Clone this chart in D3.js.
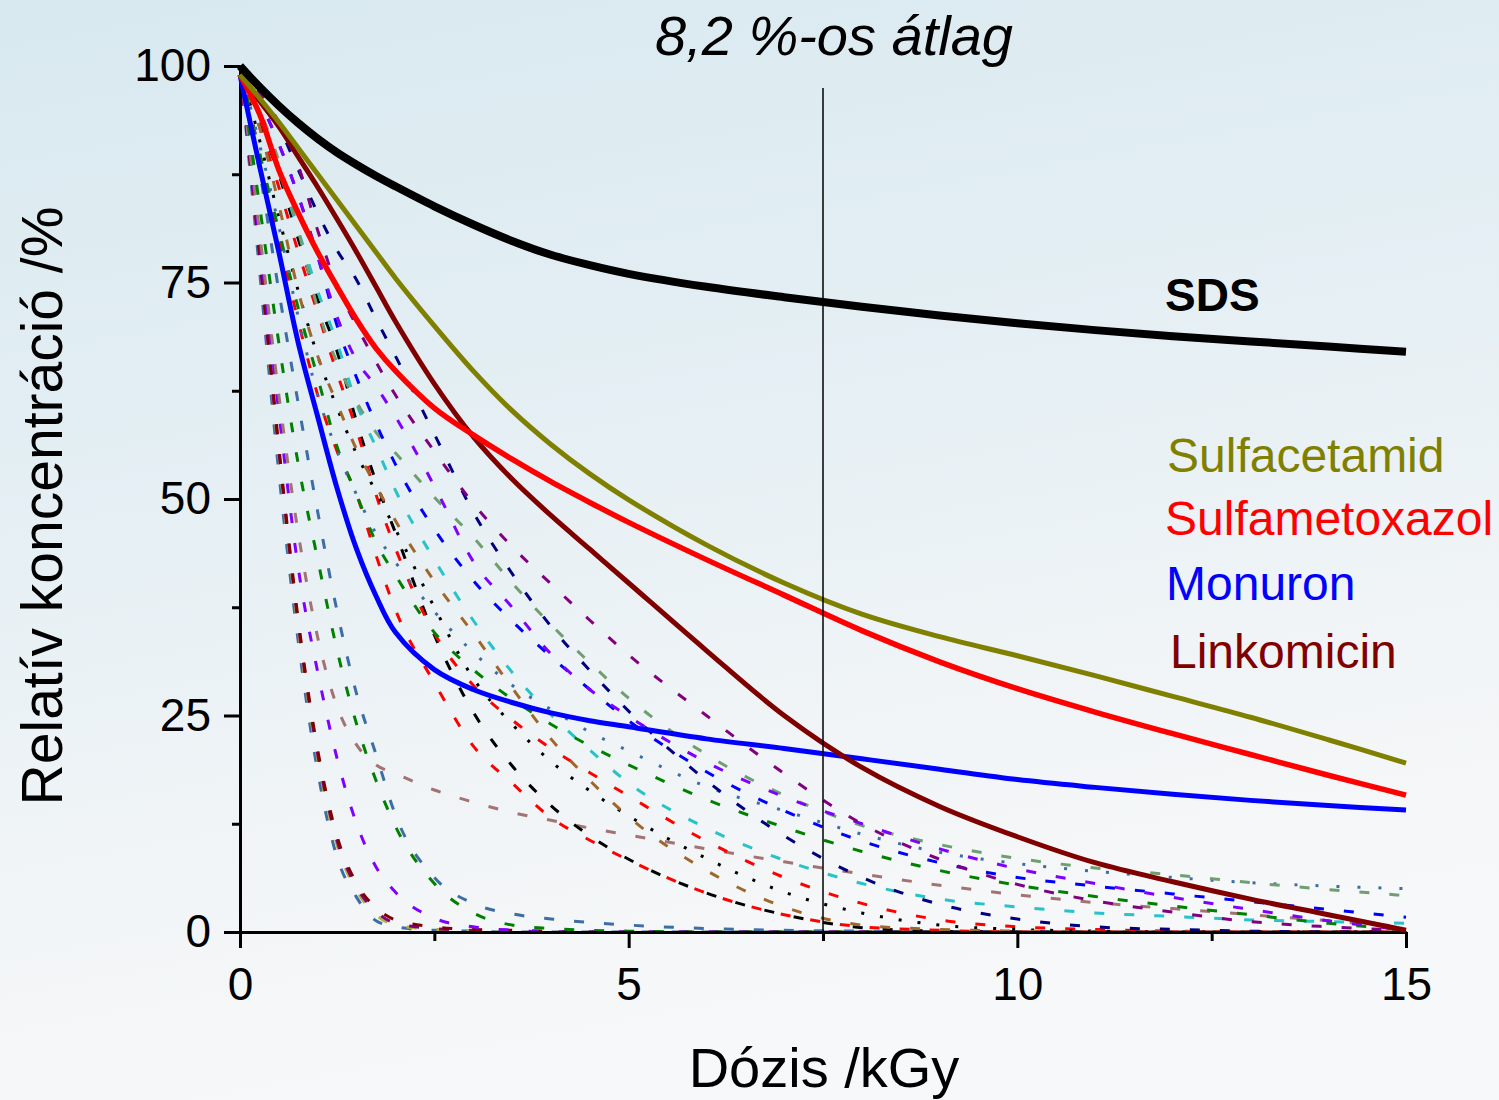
<!DOCTYPE html>
<html>
<head>
<meta charset="utf-8">
<script src="https://cdn.jsdelivr.net/npm/d3@7"></script>
<style>
  html, body { margin: 0; padding: 0; background: #f4f6f8; }
  svg { display: block; font-family: "Liberation Sans", Arial, sans-serif; }
</style>
</head>
<body>
<svg width="1499" height="1100"></svg>
<script>
// dose grid (kGy) shared by every series
const doses = [0, 0.25, 0.5, 0.75, 1, 1.25, 1.5, 1.75, 2, 2.5, 3, 3.5, 4, 4.5, 5, 6, 7, 8, 9, 10, 11, 12, 13, 14, 15];

// highlighted compounds (relative concentration, %)
const sds            = [100, 97.6, 95.4, 93.4, 91.6, 90.0, 88.6, 87.3, 86.1, 83.8, 81.7, 79.8, 78.2, 77.0, 76.0, 74.5, 73.3, 72.2, 71.2, 70.3, 69.5, 68.8, 68.2, 67.6, 67.0];
const sulfacetamid   = [99, 96.3, 93.5, 90.5, 87.5, 84.5, 81.5, 78.5, 75.5, 70, 64.8, 60.2, 56.3, 52.9, 49.9, 44.7, 40.3, 36.7, 34.1, 31.9, 29.6, 27.2, 24.8, 22.2, 19.5];
const sulfametoxazol = [99, 94.5, 88, 83, 78.5, 74.5, 70.7, 67.4, 64.8, 60.5, 57.4, 54.6, 52, 49.6, 47.3, 43.0, 38.9, 34.8, 31.2, 28.1, 25.4, 22.9, 20.5, 18.1, 15.8];
const monuron        = [99, 88.5, 78.5, 68, 59.5, 51.2, 44.2, 38.8, 34.6, 30.3, 28, 26.5, 25.3, 24.4, 23.7, 22.3, 21.2, 20, 18.8, 17.6, 16.7, 15.9, 15.2, 14.6, 14.1];
const linkomicin     = [99, 96, 93, 89.5, 86, 82.3, 78.5, 74.5, 70.5, 63.3, 57.2, 52.3, 48.1, 44.2, 40.3, 32.5, 25, 19, 14.5, 11, 8, 5.8, 3.8, 2, 0.2];

// the other compounds (thin dashed / dotted curves)
const dashA1 = [100, 76.5, 53, 33.5, 18.5, 8.6, 4.0, 1.3, 0.6, 0.2, 0.1, 0, 0, 0, 0, 0, 0, 0, 0, 0, 0, 0, 0, 0, 0];
const dashA2 = [100, 78, 55, 35, 20, 10, 4.8, 2.0, 0.8, 0.3, 0.1, 0, 0, 0, 0, 0, 0, 0, 0, 0, 0, 0, 0, 0, 0];
const dashA3 = [100, 78, 55.5, 35.5, 20.5, 10.5, 5.2, 2.4, 1.0, 0.4, 0.2, 0.1, 0, 0, 0, 0, 0, 0, 0, 0, 0, 0, 0, 0, 0];
const dashA4 = [100, 79, 56, 36, 21, 11, 5.6, 2.8, 1.4, 0.6, 0.3, 0.2, 0.1, 0, 0, 0, 0, 0, 0, 0, 0, 0, 0, 0, 0];
const dashV1 = [100, 80, 60, 42, 30, 20, 12.5, 7.5, 4.6, 1.6, 0.6, 0.2, 0, 0, 0, 0, 0, 0, 0, 0, 0, 0, 0, 0, 0];
const dashRB = [100, 81, 62, 46, 34, 26, 21.6, 19.3, 18.3, 16.4, 15, 13.8, 12.9, 12, 11.2, 9.6, 8.1, 6.7, 5.4, 4.3, 3.4, 2.7, 2.0, 1.3, 0.6];
const dashG1 = [100, 84, 68, 54, 43, 32.5, 24, 17.5, 12.2, 5.6, 2.2, 0.8, 0.4, 0.2, 0.1, 0, 0, 0, 0, 0, 0, 0, 0, 0, 0];
const dashS2 = [100, 88, 74, 61, 48.5, 37, 27.5, 20.5, 13.5, 6.3, 3.3, 2.1, 1.5, 1.1, 0.8, 0.4, 0.2, 0.1, 0, 0, 0, 0, 0, 0, 0];
const dashK1 = [100, 93.5, 87.5, 80, 73, 67, 58.9, 52, 46.1, 34.3, 25.4, 19.2, 14.6, 11.1, 8.4, 4.5, 2.0, 0.5, 0.1, 0, 0, 0, 0, 0, 0];
const dashR1 = [100, 90, 80, 70.5, 62, 55.5, 50.5, 43.5, 37.2, 28.8, 21.5, 17.2, 13.2, 10.6, 8.3, 4.5, 2.0, 0.6, 0.2, 0, 0, 0, 0, 0, 0];
const dashR2 = [100, 93, 86, 78.5, 71.5, 64.5, 58, 50.5, 44.3, 34.5, 28.5, 24.5, 21.2, 18.4, 15.7, 10.5, 6.3, 3.3, 1.4, 0.6, 0.3, 0.1, 0, 0, 0];
const dotK   = [100, 91.5, 82.5, 74, 66.5, 60.5, 55.2, 50.8, 46.5, 37.5, 29.3, 24, 19.7, 16.3, 13.4, 8.5, 4.6, 2.2, 0.8, 0.3, 0.1, 0, 0, 0, 0];
const dashBr = [100, 93, 84, 74, 66.5, 61, 55.7, 51.5, 47.5, 40.5, 34.5, 28.2, 22.3, 17.5, 13.3, 7.1, 2.9, 0.8, 0.3, 0.1, 0, 0, 0, 0, 0];
const dashCy = [100, 95, 88, 81, 74, 68, 61, 56, 51, 43, 36, 30, 25.1, 21, 17.2, 12, 8.3, 5.6, 3.8, 2.9, 2.2, 1.8, 1.4, 1.2, 1.0];
const dashG2 = [100, 90, 81, 72, 64, 56, 50.5, 45, 41.2, 34.6, 30.3, 26.9, 24, 21.5, 19.3, 15.3, 12.1, 9.3, 7.1, 5.4, 4.1, 3.0, 2.0, 1.0, 0.3];
const dotSB  = [100, 91, 81.5, 71, 62, 55.5, 50.5, 46, 42.7, 37, 32.3, 28.5, 25.7, 23.1, 20.9, 16.8, 14, 11.3, 9.2, 7.9, 7.0, 6.3, 5.7, 5.3, 5.0];
const dashGG = [100, 95, 89, 81, 72, 65.7, 61.2, 57.7, 55.3, 50.2, 45.6, 40.3, 35.5, 31.1, 27, 20.5, 15.8, 12.3, 10.1, 8.5, 7.4, 6.6, 5.7, 4.9, 4.2];
const dashBl = [100, 96, 91, 85, 78, 70, 64, 58.7, 54, 46.5, 40.6, 35.9, 31.8, 28, 24.4, 18.5, 14, 10.5, 8.0, 6.3, 5.3, 4.4, 3.5, 2.6, 1.7];
const dashV2 = [100, 96, 91, 85, 78, 71, 66, 63, 59.5, 51.5, 42.8, 37.5, 32.1, 28, 24.9, 19.6, 15.6, 12.5, 9.6, 7.3, 5.6, 4.0, 2.6, 1.3, 0.2];
const dashNv = [100, 97, 93, 88, 83, 78.7, 75.3, 70.8, 66.5, 57.5, 48.5, 41.4, 35.3, 30.2, 25.5, 17.5, 11.1, 6.3, 3.2, 1.5, 0.6, 0.3, 0.1, 0, 0];
const dashM2 = [100, 97, 93.5, 88.5, 81, 74.5, 70, 65.8, 62, 55.5, 49.5, 44.5, 40.2, 36, 32, 25, 18.3, 12.5, 8.4, 5.5, 3.6, 2.3, 1.2, 0.6, 0.2];

// labels
const labelNames = ["SDS", "Sulfacetamid", "Sulfametoxazol", "Monuron", "Linkomicin"];
const yTicks = [0, 25, 50, 75, 100];
const xTicks = [0, 5, 10, 15];
const meanDose = 7.5;

const svg = d3.select("svg"),
  width = 1499,
  height = 1100;

// background
const defs = svg.append("defs");
const bg = defs.append("linearGradient").attr("id", "bg")
  .attr("x1", 0).attr("y1", 0).attr("x2", 0.25).attr("y2", 1);
bg.append("stop").attr("offset", "0%").attr("stop-color", "#d8e9f0");
bg.append("stop").attr("offset", "45%").attr("stop-color", "#e5eff4");
bg.append("stop").attr("offset", "80%").attr("stop-color", "#f2f5f7");
bg.append("stop").attr("offset", "100%").attr("stop-color", "#f7f8f9");
svg.append("rect").attr("width", width).attr("height", height).attr("fill", "url(#bg)");

// scales
const x = d3.scaleLinear().domain([0, 15]).range([240, 1406]);
const y = d3.scaleLinear().domain([0, 100]).range([932, 66]);

const line = (vals, curve) => d3.line()
  .x((d, i) => x(doses[i]))
  .y(d => y(d))
  .curve(curve)(vals);

// thin curves
const thin = [
  { v: dashA1, c: "#3d6ea3", dash: "10,20" },
  { v: dashA2, c: "#b0b038", dash: "10,20" },
  { v: dashA3, c: "#800080", dash: "10,20" },
  { v: dashA4, c: "#800000", dash: "10,20" },
  { v: dashV1, c: "#8000ff", dash: "10,20" },
  { v: dashRB, c: "#a37373", dash: "10,20" },
  { v: dashG1, c: "#008000", dash: "10,20" },
  { v: dashS2, c: "#3d6ea3", dash: "10,20" },
  { v: dashK1, c: "#000000", dash: "10,20" },
  { v: dashR1, c: "#ff0000", dash: "10,20" },
  { v: dashR2, c: "#ff0000", dash: "10,20" },
  { v: dotK,   c: "#000000", dash: "3,16" },
  { v: dashBr, c: "#a0672c", dash: "10,20" },
  { v: dashCy, c: "#26c3c8", dash: "10,20" },
  { v: dashG2, c: "#008000", dash: "10,20" },
  { v: dotSB,  c: "#3d6ea3", dash: "3,18" },
  { v: dashGG, c: "#6f9f70", dash: "10,20" },
  { v: dashBl, c: "#0000ff", dash: "10,20" },
  { v: dashV2, c: "#8000ff", dash: "10,20" },
  { v: dashNv, c: "#000080", dash: "10,20" },
  { v: dashM2, c: "#800080", dash: "10,20" }
];

svg.append("g").attr("class", "others")
  .selectAll("path")
  .data(thin)
  .enter().append("path")
  .attr("d", d => line(d.v, d3.curveMonotoneX))
  .attr("fill", "none")
  .attr("stroke", d => d.c)
  .attr("stroke-width", 3)
  .attr("stroke-dasharray", d => d.dash);

// axes
svg.append("g")
  .attr("transform", `translate(${x(0)},0)`)
  .call(d3.axisLeft(y).tickValues(yTicks).tickSize(16).tickSizeOuter(0).tickPadding(13));
svg.append("g")
  .attr("transform", `translate(${x(0)},0)`)
  .call(d3.axisLeft(y).tickValues([12.5, 37.5, 62.5, 87.5]).tickSize(8).tickSizeOuter(0).tickFormat(""));

svg.append("g")
  .attr("transform", `translate(0,${y(0)})`)
  .call(d3.axisBottom(x).tickValues(xTicks).tickSize(16).tickSizeOuter(0).tickPadding(19));
svg.append("g")
  .attr("transform", `translate(0,${y(0)})`)
  .call(d3.axisBottom(x).tickValues([2.5, 7.5, 12.5]).tickSize(9).tickSizeOuter(0).tickFormat(""));

svg.selectAll(".domain, .tick line").attr("stroke", "#000").attr("stroke-width", 3);
svg.selectAll(".tick text")
  .attr("fill", "#000")
  .style("font-size", "46px")
  .style("font-family", "'Liberation Sans', Arial, sans-serif");

// highlighted curves
const main = [
  { v: monuron, c: "#0000ff", w: 5 },
  { v: linkomicin, c: "#800000", w: 5 },
  { v: sulfametoxazol, c: "#ff0000", w: 5.5 },
  { v: sulfacetamid, c: "#808000", w: 5 },
  { v: sds, c: "#000000", w: 8 }
];
svg.append("g").attr("class", "main")
  .selectAll("path")
  .data(main)
  .enter().append("path")
  .attr("d", d => line(d.v, d3.curveCatmullRom.alpha(0.5)))
  .attr("fill", "none")
  .attr("stroke", d => d.c)
  .attr("stroke-width", d => d.w);

// mean-dose marker
svg.append("line")
  .attr("x1", x(meanDose)).attr("x2", x(meanDose))
  .attr("y1", 88).attr("y2", y(0))
  .attr("stroke", "#000").attr("stroke-width", 1.5);

// titles
svg.append("text")
  .attr("x", 834).attr("y", 55)
  .attr("text-anchor", "middle")
  .style("font-size", "56px").style("font-style", "italic")
  .text("8,2 %-os átlag");

svg.append("text")
  .attr("x", 824).attr("y", 1087)
  .attr("text-anchor", "middle")
  .style("font-size", "56px")
  .text("Dózis /kGy");

svg.append("text")
  .attr("transform", "translate(62,506) rotate(-90)")
  .attr("text-anchor", "middle")
  .style("font-size", "57px")
  .text("Relatív koncentráció /%");

// in-plot labels
const labelPos = [[1165, 311, "#000", 46, "bold"], [1167, 472, "#808000", 48, "normal"],
  [1165, 535, "#ff0000", 48, "normal"], [1166, 600, "#0000ff", 48, "normal"], [1170, 668, "#800000", 48, "normal"]];
svg.append("g").selectAll("text")
  .data(labelNames)
  .enter().append("text")
  .attr("x", (d, i) => labelPos[i][0])
  .attr("y", (d, i) => labelPos[i][1])
  .attr("fill", (d, i) => labelPos[i][2])
  .style("font-size", (d, i) => labelPos[i][3] + "px")
  .style("font-weight", (d, i) => labelPos[i][4])
  .text(d => d);
</script>
</body>
</html>
